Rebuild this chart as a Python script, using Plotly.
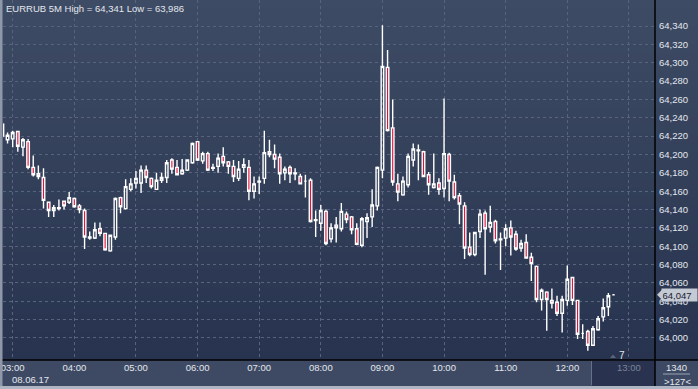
import plotly.graph_objects as go
import pandas as pd

# ---------------- data (EURRUB, 5-minute candles, 08.06.17) ----------------
times = pd.date_range("2017-06-08 02:50", periods=120, freq="5min")

opens = [
    64.233, 64.216, 64.217, 64.225, 64.208, 64.214, 64.186, 64.179, 64.175, 64.148,
    64.139, 64.141, 64.149, 64.148, 64.152, 64.144, 64.139, 64.110, 64.109, 64.119,
    64.114, 64.095, 64.110, 64.153, 64.141, 64.162, 64.169, 64.169, 64.183, 64.174,
    64.162, 64.172, 64.175, 64.194, 64.186, 64.179, 64.183, 64.191, 64.214, 64.193,
    64.201, 64.185, 64.187, 64.198, 64.192, 64.187, 64.174, 64.186, 64.186, 64.160,
    64.170, 64.174, 64.203, 64.200, 64.197, 64.180, 64.186, 64.180, 64.176, 64.171,
    64.172, 64.128, 64.125, 64.138, 64.108, 64.123, 64.119, 64.135, 64.132, 64.119,
    64.101, 64.127, 64.132, 64.144, 64.183, 64.295, 64.229, 64.168, 64.156, 64.167,
    64.194, 64.205, 64.203, 64.178, 64.164, 64.169, 64.163, 64.200, 64.170, 64.155,
    64.144, 64.099, 64.091, 64.116, 64.136, 64.121, 64.127, 64.108, 64.109, 64.120,
    64.113, 64.098, 64.104, 64.088, 64.078, 64.042, 64.050, 64.041, 64.039, 64.027,
    64.041, 64.066, 64.041, 64.005, 64.007, 63.992, 64.009, 64.023, 64.034, 64.047,
]
highs = [
    64.235, 64.224, 64.226, 64.226, 64.218, 64.217, 64.199, 64.188, 64.185, 64.148,
    64.145, 64.151, 64.149, 64.159, 64.153, 64.146, 64.141, 64.116, 64.126, 64.126,
    64.114, 64.112, 64.153, 64.154, 64.173, 64.174, 64.182, 64.188, 64.188, 64.175,
    64.180, 64.180, 64.194, 64.196, 64.194, 64.195, 64.194, 64.213, 64.214, 64.203,
    64.203, 64.190, 64.201, 64.208, 64.193, 64.194, 64.193, 64.196, 64.194, 64.176,
    64.176, 64.226, 64.216, 64.211, 64.201, 64.187, 64.188, 64.185, 64.179, 64.178,
    64.174, 64.139, 64.145, 64.140, 64.125, 64.132, 64.147, 64.138, 64.133, 64.125,
    64.132, 64.136, 64.162, 64.187, 64.341, 64.314, 64.260, 64.179, 64.176, 64.201,
    64.212, 64.211, 64.204, 64.181, 64.201, 64.174, 64.261, 64.202, 64.178, 64.158,
    64.148, 64.115, 64.115, 64.140, 64.139, 64.144, 64.129, 64.115, 64.124, 64.128,
    64.117, 64.107, 64.113, 64.093, 64.079, 64.054, 64.051, 64.054, 64.046, 64.046,
    64.079, 64.066, 64.041, 64.015, 64.009, 64.013, 64.024, 64.043, 64.049, 64.048,
]
lows = [
    64.218, 64.212, 64.208, 64.203, 64.198, 64.184, 64.176, 64.173, 64.141, 64.132,
    64.132, 64.139, 64.140, 64.146, 64.142, 64.136, 64.097, 64.107, 64.108, 64.111,
    64.095, 64.094, 64.107, 64.136, 64.140, 64.160, 64.163, 64.158, 64.169, 64.163,
    64.162, 64.169, 64.169, 64.179, 64.177, 64.178, 64.182, 64.190, 64.193, 64.190,
    64.182, 64.182, 64.180, 64.187, 64.179, 64.170, 64.171, 64.180, 64.150, 64.152,
    64.157, 64.168, 64.197, 64.185, 64.168, 64.172, 64.169, 64.172, 64.168, 64.153,
    64.126, 64.110, 64.117, 64.101, 64.104, 64.104, 64.116, 64.125, 64.113, 64.101,
    64.099, 64.109, 64.121, 64.139, 64.174, 64.225, 64.166, 64.149, 64.155, 64.164,
    64.187, 64.172, 64.176, 64.156, 64.163, 64.156, 64.153, 64.149, 64.151, 64.124,
    64.086, 64.089, 64.089, 64.109, 64.069, 64.115, 64.103, 64.074, 64.100, 64.090,
    64.095, 64.094, 64.087, 64.062, 64.039, 64.030, 64.008, 64.032, 64.024, 64.006,
    64.035, 64.036, 63.999, 63.999, 63.986, 63.992, 64.008, 64.018, 64.024, 64.047,
]
closes = [
    64.220, 64.221, 64.224, 64.209, 64.216, 64.186, 64.178, 64.176, 64.150, 64.139,
    64.142, 64.142, 64.144, 64.153, 64.143, 64.140, 64.110, 64.109, 64.118, 64.114,
    64.096, 64.112, 64.152, 64.143, 64.165, 64.168, 64.174, 64.183, 64.175, 64.165,
    64.172, 64.175, 64.191, 64.184, 64.178, 64.183, 64.194, 64.212, 64.194, 64.201,
    64.183, 64.186, 64.196, 64.191, 64.187, 64.176, 64.184, 64.189, 64.160, 64.168,
    64.171, 64.202, 64.200, 64.195, 64.179, 64.184, 64.179, 64.179, 64.168, 64.171,
    64.127, 64.129, 64.139, 64.103, 64.120, 64.120, 64.138, 64.129, 64.118, 64.102,
    64.130, 64.131, 64.145, 64.186, 64.296, 64.226, 64.170, 64.159, 64.171, 64.198,
    64.206, 64.204, 64.176, 64.167, 64.168, 64.162, 64.201, 64.171, 64.153, 64.146,
    64.098, 64.091, 64.115, 64.135, 64.119, 64.126, 64.106, 64.107, 64.119, 64.110,
    64.097, 64.103, 64.087, 64.081, 64.042, 64.052, 64.042, 64.038, 64.027, 64.042,
    64.064, 64.041, 64.004, 64.005, 63.992, 64.010, 64.021, 64.033, 64.046, 64.047,
]

hour_labels = ["03:00", "04:00", "05:00", "06:00", "07:00", "08:00",
               "09:00", "10:00", "11:00", "12:00", "13:00"]
price_ticks = [64.000, 64.020, 64.040, 64.060, 64.080, 64.100, 64.120, 64.140, 64.160,
               64.180, 64.200, 64.220, 64.240, 64.260, 64.280, 64.300, 64.320, 64.340]
date_label = "08.06.17"
symbol = "EURRUB 5M"
bars_count = "1340"
bars_shown = ">127<"
marker_count = "7"

# ---------------- geometry ----------------
W, H = 698, 389
ML, MR, MT, MB = 3, 43, 0, 29
PW, PH = W - ML - MR, H - MT - MB


def px(x):
    return (x - ML) / PW


def py(y):
    return (MT + PH - y) / PH


def fmt(v):
    return f"{v:.3f}".replace(".", ",")


FONT = "Liberation Sans, Arial, sans-serif"
TXT = "#e3e7ee"

fig = go.Figure()
fig.add_trace(go.Candlestick(
    x=times, open=opens, high=highs, low=lows, close=closes,
    increasing=dict(line=dict(color="#ffffff", width=1.4), fillcolor="rgba(0,0,0,0)"),
    decreasing=dict(line=dict(color="#ffffff", width=1.4), fillcolor="#e3103a"),
    whiskerwidth=0, showlegend=False, hoverinfo="skip",
))

shapes = []
# background gradient for plot + right price panel
top, bot = (62, 75, 100), (40, 52, 79)
N = 40
for i in range(N):
    t = i / (N - 1)
    c = tuple(round(top[k] + (bot[k] - top[k]) * t) for k in range(3))
    shapes.append(dict(type="rect", xref="paper", yref="paper", layer="below",
                       x0=px(0), x1=px(W), y0=1 - (i + 1) / N, y1=1 - i / N + 0.001,
                       fillcolor=f"rgb{c}", line=dict(width=0)))
# darker future box under time axis
shapes.append(dict(type="rect", xref="paper", yref="paper", layer="below",
                   x0=px(592), x1=px(655), y0=py(386), y1=py(361),
                   fillcolor="#29334f", line=dict(width=0)))
shapes.append(dict(type="line", xref="paper", yref="paper",
                   x0=px(591.5), x1=px(591.5), y0=py(385), y1=py(361),
                   line=dict(color="#66708a", width=1)))
# axis frame lines
shapes.append(dict(type="line", xref="paper", yref="paper",
                   x0=px(655), x1=px(655), y0=py(H), y1=py(0),
                   line=dict(color="#000000", width=1.5)))
shapes.append(dict(type="line", xref="paper", yref="paper",
                   x0=px(0), x1=px(W), y0=py(360), y1=py(360),
                   line=dict(color="#000000", width=1.5)))
# outer frame strips
shapes.append(dict(type="rect", xref="paper", yref="paper",
                   x0=px(0), x1=px(2.5), y0=py(H), y1=py(0),
                   fillcolor="#8f98a9", line=dict(width=0)))
shapes.append(dict(type="rect", xref="paper", yref="paper",
                   x0=px(0), x1=px(W), y0=py(H), y1=py(386),
                   fillcolor="#aeb6c4", line=dict(width=0)))
# separator in bottom-right box
shapes.append(dict(type="line", xref="paper", yref="paper",
                   x0=px(663), x1=px(690), y0=py(374), y1=py(374),
                   line=dict(color="#9aa3b3", width=1)))
# last price pointer triangle
shapes.append(dict(type="path", xref="paper", yref="y",
                   xsizemode="pixel", ysizemode="pixel",
                   xanchor=px(655), yanchor=closes[-1],
                   path="M 2 0 L 7 -5 L 7 5 Z",
                   fillcolor="#c4cad4", line=dict(width=0)))
# small marker triangle near count
shapes.append(dict(type="path", xref="paper", yref="paper",
                   path=f"M {px(610)} {py(358)} L {px(616)} {py(358)} L {px(613)} {py(354.5)} Z",
                   fillcolor="#5b6579", line=dict(width=0)))

ann = []
ann.append(dict(text=f"{symbol} High = {fmt(max(highs))} Low = {fmt(min(lows))}",
                xref="paper", yref="paper", x=px(4), y=py(8),
                xanchor="left", yanchor="middle", showarrow=False,
                font=dict(family=FONT, size=9.5, color=TXT)))
ann.append(dict(text=date_label, xref="paper", yref="paper", x=px(10), y=py(379),
                xanchor="left", yanchor="middle", showarrow=False,
                font=dict(family=FONT, size=9.5, color=TXT)))
ann.append(dict(text=fmt(closes[-1]), xref="paper", yref="y", x=px(661), y=closes[-1],
                xanchor="left", yanchor="middle", showarrow=False,
                bgcolor="#c4cad4", borderpad=0.5, width=34, align="left",
                font=dict(family=FONT, size=9.5, color="#1a2030")))
ann.append(dict(text=marker_count, xref="paper", yref="paper", x=px(622), y=py(355),
                xanchor="center", yanchor="middle", showarrow=False,
                font=dict(family=FONT, size=10, color=TXT)))
ann.append(dict(text=bars_count, xref="paper", yref="paper", x=px(676), y=py(367),
                xanchor="center", yanchor="middle", showarrow=False,
                font=dict(family=FONT, size=9.5, color=TXT)))
ann.append(dict(text=bars_shown, xref="paper", yref="paper", x=px(677), y=py(381.5),
                xanchor="center", yanchor="middle", showarrow=False,
                font=dict(family=FONT, size=9.5, color=TXT)))

hour_vals = [pd.Timestamp("2017-06-08 " + h) for h in hour_labels]
hour_text = [h if i < len(hour_labels) - 1 else f"<span style='color:#7a8499'>{h}</span>"
             for i, h in enumerate(hour_labels)]

fig.update_layout(
    width=W, height=H,
    margin=dict(l=ML, r=MR, t=MT, b=MB, pad=0),
    paper_bgcolor="#3e4a63", plot_bgcolor="rgba(0,0,0,0)",
    separators=",.",
    shapes=shapes, annotations=ann,
    showlegend=False,
    xaxis=dict(
        type="date",
        range=["2017-06-08 02:50:34", "2017-06-08 13:25:24"],
        rangeslider=dict(visible=False),
        tickvals=hour_vals, ticktext=hour_text,
        showgrid=True, gridcolor="#58647e", griddash="3px,3px", gridwidth=1,
        zeroline=False, showline=False, ticks="",
        tickfont=dict(family=FONT, size=9.5, color=TXT),
        ticklabelstandoff=0,
        fixedrange=True,
    ),
    yaxis=dict(
        side="right",
        range=[63.976, 64.3684],
        tickvals=price_ticks, tickformat=".3f",
        showgrid=True, gridcolor="#58647e", griddash="3px,3px", gridwidth=1,
        zeroline=False, showline=False, ticks="",
        tickfont=dict(family=FONT, size=9.5, color=TXT),
        ticklabelstandoff=3,
        fixedrange=True,
    ),
)

fig.write_html("out.html")
